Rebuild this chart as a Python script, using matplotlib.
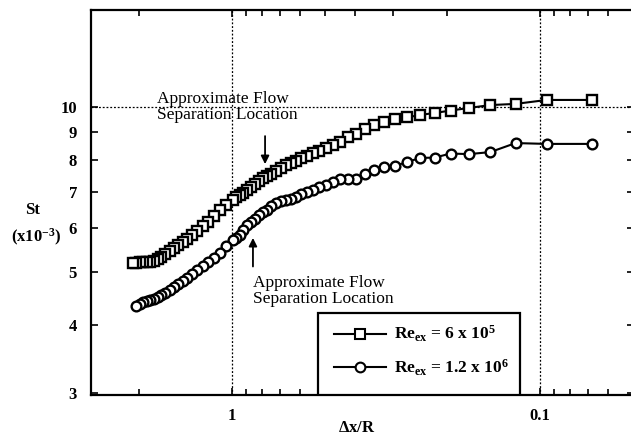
import matplotlib
matplotlib.use("Agg")
import matplotlib.pyplot as plt
from matplotlib.ticker import FixedLocator, NullFormatter, NullLocator, LogLocator
from matplotlib.patches import Rectangle
from matplotlib.lines import Line2D

plt.rcParams['font.family'] = ['Liberation Serif', 'DejaVu Serif']
plt.rcParams['mathtext.fontset'] = 'custom'
plt.rcParams['mathtext.rm'] = 'Liberation Serif:bold'
plt.rcParams['mathtext.it'] = 'Liberation Serif:bold'
plt.rcParams['mathtext.bf'] = 'Liberation Serif:bold'

# delta x / R  (axis runs from large to small)
dx_hi = [0.068, 0.095, 0.12, 0.145, 0.17, 0.195, 0.22, 0.245, 0.27, 0.295,
         0.32, 0.345, 0.37, 0.395, 0.42, 0.445, 0.47, 0.495, 0.52, 0.545,
         0.57, 0.595, 0.62, 0.645, 0.67, 0.695, 0.72, 0.745, 0.77, 0.795,
         0.82, 0.845, 0.87, 0.895, 0.92, 0.945, 0.97, 0.995, 1.045, 1.095,
         1.145, 1.195, 1.245, 1.295, 1.345, 1.395, 1.445, 1.495, 1.545, 1.595,
         1.645, 1.695, 1.745, 1.795, 1.845, 1.895, 1.945, 1.995, 2.045, 2.095]
st_hi = [10.30, 10.30, 10.13, 10.08, 9.96, 9.85, 9.75, 9.67, 9.57, 9.49,
         9.39, 9.25, 9.10, 8.93, 8.82, 8.63, 8.52, 8.43, 8.32, 8.24,
         8.15, 8.08, 7.98, 7.90, 7.83, 7.73, 7.64, 7.54, 7.48, 7.42,
         7.33, 7.24, 7.14, 7.05, 6.96, 6.90, 6.84, 6.76, 6.62, 6.48,
         6.32, 6.17, 6.06, 5.94, 5.84, 5.74, 5.67, 5.60, 5.52, 5.45,
         5.38, 5.32, 5.27, 5.23, 5.21, 5.21, 5.20, 5.20, 5.18, 5.18]

dx_lo = [0.068, 0.095, 0.12, 0.145, 0.17, 0.195, 0.22, 0.245, 0.27, 0.295,
         0.32, 0.345, 0.37, 0.395, 0.42, 0.445, 0.47, 0.495, 0.52, 0.545,
         0.57, 0.595, 0.62, 0.645, 0.67, 0.695, 0.72, 0.745, 0.77, 0.795,
         0.82, 0.845, 0.87, 0.895, 0.92, 0.945, 0.97, 0.995, 1.045, 1.095,
         1.145, 1.195, 1.245, 1.295, 1.345, 1.395, 1.445, 1.495, 1.545, 1.595,
         1.645, 1.695, 1.745, 1.795, 1.845, 1.895, 1.945, 1.995, 2.045]
st_lo = [8.56, 8.56, 8.59, 8.27, 8.20, 8.22, 8.08, 8.07, 7.93, 7.81,
         7.78, 7.67, 7.54, 7.40, 7.39, 7.39, 7.30, 7.19, 7.13, 7.05,
         6.99, 6.93, 6.84, 6.80, 6.76, 6.73, 6.68, 6.60, 6.48, 6.42,
         6.35, 6.24, 6.17, 6.09, 5.96, 5.84, 5.76, 5.71, 5.57, 5.41,
         5.29, 5.21, 5.12, 5.04, 4.96, 4.87, 4.81, 4.75, 4.69, 4.63,
         4.57, 4.54, 4.50, 4.46, 4.44, 4.42, 4.40, 4.37, 4.33]

labels = [r'Re$_{ex}$ = 6 x 10$^{5}$', r'Re$_{ex}$ = 1.2 x 10$^{6}$']
ytick_vals = [3, 4, 5, 6, 7, 8, 9, 10]
xtick_vals = [1, 0.1]
xtick_labels = ['1', '0.1']

fig = plt.figure(figsize=(6.31, 4.43), dpi=100)
ax = fig.add_axes([91/631, 48/443, 543/631, 385/443])

ax.axhline(10, color='k', ls=(0, (1.5, 1.5)), lw=0.9, zorder=1)
for v in xtick_vals:
    ax.axvline(v, color='k', ls=(0, (1.5, 1.5)), lw=0.9, zorder=1)

ax.plot(dx_hi, st_hi, '-s', color='k', mfc='white', mec='k', ms=7, mew=1.7, lw=1.5, zorder=3)
ax.plot(dx_lo, st_lo, '-o', color='k', mfc='white', mec='k', ms=7, mew=1.7, lw=1.5, zorder=3)

ax.set_xscale('log')
ax.set_yscale('log')
ax.set_xlim(2.87, 0.0495)
ax.set_ylim(2.975, 15.04)

ax.yaxis.set_major_locator(FixedLocator(ytick_vals))
ax.yaxis.set_minor_locator(NullLocator())
ax.set_yticklabels([str(v) for v in ytick_vals], fontsize=12, fontweight='bold')
ax.xaxis.set_major_locator(FixedLocator(xtick_vals))
ax.xaxis.set_minor_locator(LogLocator(base=10, subs=[2, 3, 4, 5, 6, 7, 8, 9]))
ax.xaxis.set_minor_formatter(NullFormatter())
ax.set_xticklabels(xtick_labels, fontsize=12, fontweight='bold')

ax.tick_params(axis='both', which='both', direction='in', top=True, right=True, width=1.2)
ax.tick_params(axis='both', which='major', length=5)
ax.tick_params(axis='x', which='minor', length=4)
ax.tick_params(axis='y', pad=10)
ax.tick_params(axis='x', pad=9)
for s in ax.spines.values():
    s.set_linewidth(1.6)

# annotations
ax.annotate('', xy=(0.781, 7.77), xytext=(0.781, 8.95),
            arrowprops=dict(arrowstyle='-|>', color='k', lw=1.3, mutation_scale=12))
ax.text(1.75, 10.7, 'Approximate Flow\nSeparation Location', fontsize=12.5,
        va='top', ha='left', linespacing=1.0)
ax.annotate('', xy=(0.855, 5.83), xytext=(0.855, 5.05),
            arrowprops=dict(arrowstyle='-|>', color='k', lw=1.3, mutation_scale=12))
ax.text(0.855, 4.92, 'Approximate Flow\nSeparation Location', fontsize=12.5,
        va='top', ha='left', linespacing=1.0)

# legend box
ax.add_patch(Rectangle(((318-91)/543, 0), (520-318)/543, (395-313)/385,
                       transform=ax.transAxes, fill=True, fc='white', ec='k', lw=1.6, zorder=4))
handles = [Line2D([0], [0], color='k', marker='s', mfc='white', ms=7, mew=1.5, lw=1.5),
           Line2D([0], [0], color='k', marker='o', mfc='white', ms=7, mew=1.5, lw=1.5)]
leg = ax.legend(handles, labels, loc='center left', frameon=False,
                bbox_to_anchor=((325-91)/543, (395-351)/385),
                prop={'size': 12.5, 'weight': 'bold'},
                handlelength=3.0, handletextpad=0.5, labelspacing=0.75, borderpad=0)
leg.set_zorder(5)

fig.text(33/631, 1-210/443, 'St', fontsize=12, fontweight='bold', ha='center', va='center')
fig.text(36/631, 1-237/443, r'(x10$^{-3}$)', fontsize=12, fontweight='bold', ha='center', va='center')
fig.text(357/631, 1-428/443, r'$\Delta$x/R', fontsize=12, fontweight='bold', ha='center', va='center')

fig.savefig('out.png', dpi=100)
